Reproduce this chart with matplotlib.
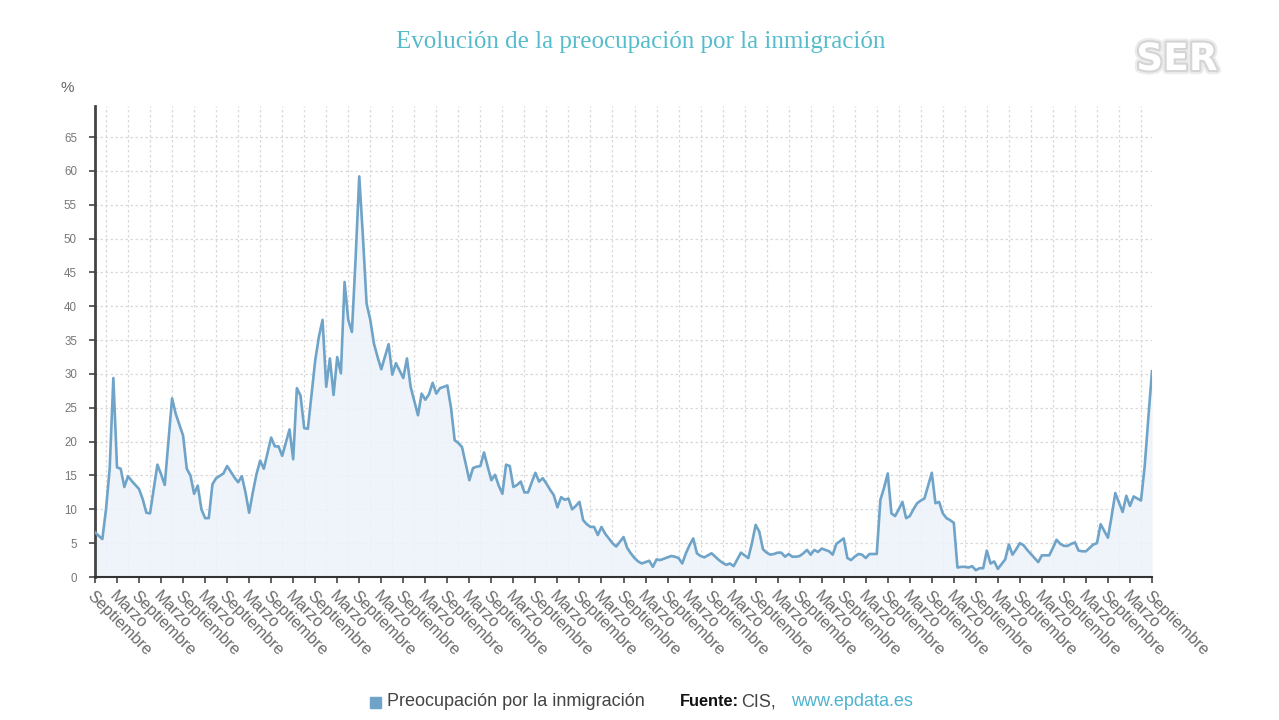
import matplotlib
matplotlib.use("Agg")
import matplotlib.pyplot as plt
import matplotlib.patheffects as pe
import numpy as np

# ---- data (month offset from Sep 2000, % concern) ----
mes = [0, 2, 3, 4, 5, 6, 7, 8, 9, 10, 12, 13, 14, 15, 17, 18, 19, 21, 22, 24,
       25, 26, 27, 28, 29, 30, 31, 32, 33, 35, 36, 38, 39, 40, 41, 42, 43, 44, 45, 46,
       48, 49, 50, 51, 53, 54, 55, 56, 57, 58, 59, 60, 61, 62, 63, 64, 65, 66, 67, 68,
       69, 70, 71, 72, 73, 74, 75, 76, 77, 78, 80, 81, 82, 83, 84, 85, 86, 87, 88, 89,
       90, 91, 92, 93, 94, 95, 96, 97, 98, 99, 100, 102, 103, 104, 105, 106, 107, 108, 109, 110,
       111, 112, 113, 114, 115, 116, 117, 118, 119, 120, 121, 122, 123, 124, 125, 126, 127, 128, 129, 130,
       131, 132, 133, 134, 135, 136, 137, 138, 139, 140, 141, 142, 143, 144, 145, 146, 147, 148, 149, 150,
       151, 152, 153, 154, 155, 156, 157, 158, 159, 160, 161, 162, 163, 164, 165, 166, 167, 168, 169, 170,
       171, 172, 173, 174, 175, 176, 177, 178, 179, 180, 181, 182, 183, 184, 185, 186, 187, 188, 189, 190,
       191, 192, 193, 194, 195, 196, 197, 198, 199, 200, 201, 202, 203, 204, 205, 206, 207, 208, 209, 210,
       211, 212, 213, 214, 215, 216, 217, 218, 219, 220, 221, 222, 223, 224, 225, 226, 227, 228, 229, 230,
       231, 232, 233, 234, 235, 236, 237, 238, 239, 240, 241, 242, 243, 244, 245, 246, 247, 248, 249, 250,
       251, 252, 253, 254, 255, 256, 257, 258, 259, 260, 261, 262, 263, 264, 265, 266, 267, 268, 269, 270,
       271, 272, 273, 274, 275, 276, 277, 278, 279, 280, 281, 282, 283, 284, 285, 286, 287, 288]
valor = [6.6, 5.6, 10.0, 16.0, 29.4, 16.2, 16.0, 13.3, 14.9, 14.2, 13.0, 11.5, 9.5, 9.4, 16.6, 15.2, 13.6, 26.4, 24.1, 20.9,
         16.0, 15.0, 12.3, 13.5, 10.0, 8.7, 8.7, 13.7, 14.6, 15.3, 16.4, 14.7, 14.0, 14.9, 12.5, 9.5, 12.5, 15.2, 17.2, 16.0,
         20.6, 19.3, 19.3, 17.9, 21.8, 17.4, 27.9, 26.8, 22.0, 21.9, 27.0, 32.0, 35.5, 38.0, 28.1, 32.3, 26.9, 32.5, 30.1, 43.6,
         38.0, 36.2, 47.0, 59.2, 50.3, 40.4, 38.0, 34.5, 32.5, 30.7, 34.4, 29.9, 31.6, 30.5, 29.4, 32.3, 28.1, 26.0, 23.9, 27.1,
         26.2, 27.0, 28.7, 27.1, 27.9, 28.1, 28.3, 25.0, 20.2, 19.8, 19.2, 14.3, 16.1, 16.3, 16.4, 18.4, 16.3, 14.3, 15.1, 13.5,
         12.3, 16.6, 16.4, 13.3, 13.6, 14.1, 12.5, 12.5, 14.0, 15.4, 14.1, 14.6, 13.8, 12.9, 12.1, 10.3, 11.8, 11.4, 11.6, 10.0,
         10.5, 11.1, 8.4, 7.8, 7.4, 7.4, 6.2, 7.4, 6.4, 5.7, 5.0, 4.5, 5.2, 5.9, 4.3, 3.5, 2.8, 2.3, 2.0, 2.2,
         2.4, 1.5, 2.6, 2.5, 2.7, 2.9, 3.1, 3.0, 2.8, 2.0, 3.5, 4.7, 5.7, 3.5, 3.1, 2.9, 3.2, 3.5, 3.0, 2.5,
         2.1, 1.8, 2.0, 1.6, 2.6, 3.6, 3.2, 2.8, 5.0, 7.7, 6.7, 4.1, 3.6, 3.3, 3.4, 3.6, 3.6, 3.0, 3.4, 3.0,
         3.0, 3.1, 3.5, 4.0, 3.3, 4.0, 3.7, 4.2, 4.0, 3.8, 3.3, 4.9, 5.3, 5.7, 2.8, 2.5, 3.0, 3.4, 3.3, 2.8,
         3.4, 3.4, 3.4, 11.4, 13.2, 15.3, 9.4, 9.0, 10.0, 11.1, 8.7, 9.0, 10.0, 10.9, 11.3, 11.6, 13.5, 15.4, 10.9, 11.1,
         9.4, 8.7, 8.4, 8.0, 1.4, 1.5, 1.5, 1.4, 1.6, 1.0, 1.3, 1.3, 3.9, 2.0, 2.3, 1.2, 1.9, 2.6, 4.8, 3.3,
         4.1, 5.0, 4.7, 4.0, 3.4, 2.8, 2.2, 3.2, 3.2, 3.2, 4.3, 5.5, 4.9, 4.6, 4.6, 4.9, 5.1, 3.9, 3.8, 3.8,
         4.3, 4.8, 5.0, 7.8, 6.8, 5.8, 9.0, 12.4, 11.0, 9.6, 12.0, 10.5, 11.9, 11.6, 11.3, 16.3, 23.5, 30.4]

etiquetas_semestre = ["Septiembre", "Marzo"]
n_semestres = 48
yticks = list(range(0, 70, 5))

titulo = "Evolución de la preocupación por la inmigración"
serie = "Preocupación por la inmigración"

# ---- figure ----
fig = plt.figure(figsize=(12.79, 7.2), dpi=100)
ax = fig.add_axes([95 / 1279, 1 - 577 / 720, (1152 - 95) / 1279, (577 - 106) / 720])

line_c = "#6fa3c8"
ax.fill_between(mes, valor, 0, color="#ecf3fa", alpha=0.85, linewidth=0, zorder=1)
ax.plot(mes, valor, color=line_c, linewidth=1.9, zorder=3, solid_joinstyle="round")

ax.set_xlim(0, 6 * n_semestres)
ax.set_ylim(0, 69.6)

major = [6 * k for k in range(n_semestres + 1)]
ax.set_xticks(major)
ax.set_xticklabels([etiquetas_semestre[k % 2] for k in range(n_semestres + 1)],
                   rotation=-45, ha="left", va="top", rotation_mode="anchor",
                   fontsize=11.8, color="#6b6b6b", family="Liberation Sans")
ax.set_xticks([6 * k + 3 for k in range(n_semestres)], minor=True)
ax.tick_params(axis="x", which="major", length=4, width=1.2, color="#444444", pad=4)
ax.tick_params(axis="x", which="minor", length=0)
ax.set_yticks(yticks)
ax.set_yticklabels([str(v) for v in yticks], fontsize=8.3, color="#777777", family="Liberation Sans")
ax.tick_params(axis="y", length=4, width=1.2, color="#444444", pad=9)

ax.grid(True, axis="y", which="major", color="#d9d9d9", linestyle=(0, (2, 2)), linewidth=0.9)
ax.grid(True, axis="x", which="minor", color="#d9d9d9", linestyle=(0, (2, 2)), linewidth=0.9)
ax.set_axisbelow(True)

for s in ["top", "right"]:
    ax.spines[s].set_visible(False)
ax.spines["left"].set_color("#444444")
ax.spines["left"].set_linewidth(2)
ax.spines["bottom"].set_color("#333333")
ax.spines["bottom"].set_linewidth(1.5)

fig.text(67 / 1279, 1 - 88 / 720, "%", fontsize=11, color="#666666", ha="center", va="center",
         family="Liberation Sans")

fig.text(641 / 1279, 1 - 42 / 720, titulo, fontsize=18, color="#56bccb", ha="center", va="center",
         family="Liberation Serif")

# legend / source line
fig.patches.append(plt.Rectangle((370 / 1279, 1 - 708 / 720), 11 / 1279, 11 / 720,
                                 transform=fig.transFigure, color="#6fa3c8", figure=fig))
fig.text(387 / 1279, 1 - 702 / 720, serie, fontsize=13, color="#444444", ha="left", va="center",
         family="Liberation Sans")
fig.text(680 / 1279, 1 - 702 / 720, "Fuente:", fontsize=11.8, color="#111111", ha="left", va="center",
         family="Liberation Sans", weight="bold")
fig.text(741 / 1279, 1 - 702 / 720, "CIS,", fontsize=13, color="#444444", ha="left", va="center",
         family="Liberation Sans")
fig.text(791 / 1279, 1 - 702 / 720, "www.epdata.es", fontsize=13, color="#4fb3cf", ha="left", va="center",
         family="Liberation Sans")

# SER logo watermark
fig.text(1177 / 1279, 1 - 60 / 720, "SER", fontsize=27, color="white", ha="center", va="center",
         family="DejaVu Sans", weight="bold",
         path_effects=[pe.withStroke(linewidth=6, foreground="#ececec"),
                       pe.withStroke(linewidth=3, foreground="#d4d4d4")])

fig.savefig("out.png", dpi=100, facecolor="white")
